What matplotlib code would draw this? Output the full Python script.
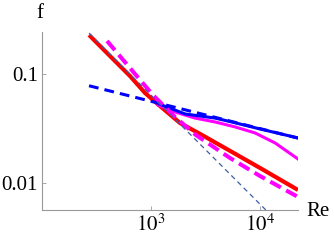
import numpy as np
import matplotlib
matplotlib.use("Agg")
import matplotlib.pyplot as plt

# friction factor curves
RE_LAMINAR = [270, 12000]
F_LAMINAR = [0.237, 0.00533]

RE_BLASIUS = [270, 22300]
F_BLASIUS = [0.078, 0.0258]

RE_RED = [270, 421, 641, 881, 1210, 1845, 2818, 5310, 10000, 22300]
F_RED = [0.228, 0.146, 0.0959, 0.0670, 0.0508, 0.0355, 0.0282, 0.0197, 0.01374, 0.00863]

RE_MAG_DASH = [395, 641, 1043, 1660, 2588, 5310, 10000, 22300]
F_MAG_DASH = [0.201, 0.1135, 0.0641, 0.0403, 0.0275, 0.01694, 0.01159, 0.00745]

RE_MAG = [1159, 1660, 2535, 3864, 5900, 8995, 13740, 22300]
F_MAG = [0.0520, 0.0448, 0.0394, 0.0363, 0.0327, 0.0288, 0.0233, 0.0166]

RE_BLUE = [1184, 2052, 3864, 5310, 10000, 22300]
F_BLUE = [0.0531, 0.0430, 0.0394, 0.0366, 0.0313, 0.0259]

X_TICKS = [1e3, 1e4]
X_TICKLABELS = ["$10^3$", "$10^4$"]
Y_TICKS = [0.1, 0.01]
Y_TICKLABELS = ["0.1", "0.01"]

plt.rcParams["font.family"] = ["Liberation Serif", "DejaVu Serif"]
plt.rcParams["mathtext.fontset"] = "stix"

fig = plt.figure(figsize=(3.34, 2.4), dpi=100)
ax = fig.add_axes([42 / 334, 1 - 210 / 240, 256 / 334, 178 / 240])

ax.plot(RE_RED, F_RED, color="#ff0000", lw=3.0, solid_capstyle="butt", zorder=2)
ax.plot(RE_MAG, F_MAG, color="#ff00ff", lw=2.2, zorder=3)
ax.plot(RE_BLUE, F_BLUE, color="#0000ff", lw=2.2, zorder=4)
ax.plot(RE_BLASIUS, F_BLASIUS, color="#0000ff", lw=2.2, dashes=(3.2, 2.0), zorder=4)
ax.plot(RE_MAG_DASH, F_MAG_DASH, color="#ff00ff", lw=2.9, dashes=(3.0, 1.5), zorder=5)
ax.plot(RE_LAMINAR, F_LAMINAR, color="#3d5fa3", lw=0.9, dashes=(4, 3), zorder=6)

ax.set_xscale("log")
ax.set_yscale("log")
ax.set_xlim(100, 22320)
ax.set_ylim(0.00565, 0.2428)

ax.set_xticks(X_TICKS)
ax.set_xticklabels(X_TICKLABELS)
ax.set_yticks(Y_TICKS)
ax.set_yticklabels(Y_TICKLABELS)
ax.minorticks_off()
ax.tick_params(direction="in", length=3, width=0.6, color="#999999",
               labelsize=15, pad=3)

for side in ["top", "right"]:
    ax.spines[side].set_visible(False)
for side in ["left", "bottom"]:
    ax.spines[side].set_color("#999999")
    ax.spines[side].set_linewidth(0.8)

fig.text(40 / 334, 1 - 13 / 240, "f", fontsize=15, ha="center", va="center")
fig.text(306 / 334, 1 - 211 / 240, "Re", fontsize=15, ha="left", va="center")

fig.savefig("out.png", dpi=100)
